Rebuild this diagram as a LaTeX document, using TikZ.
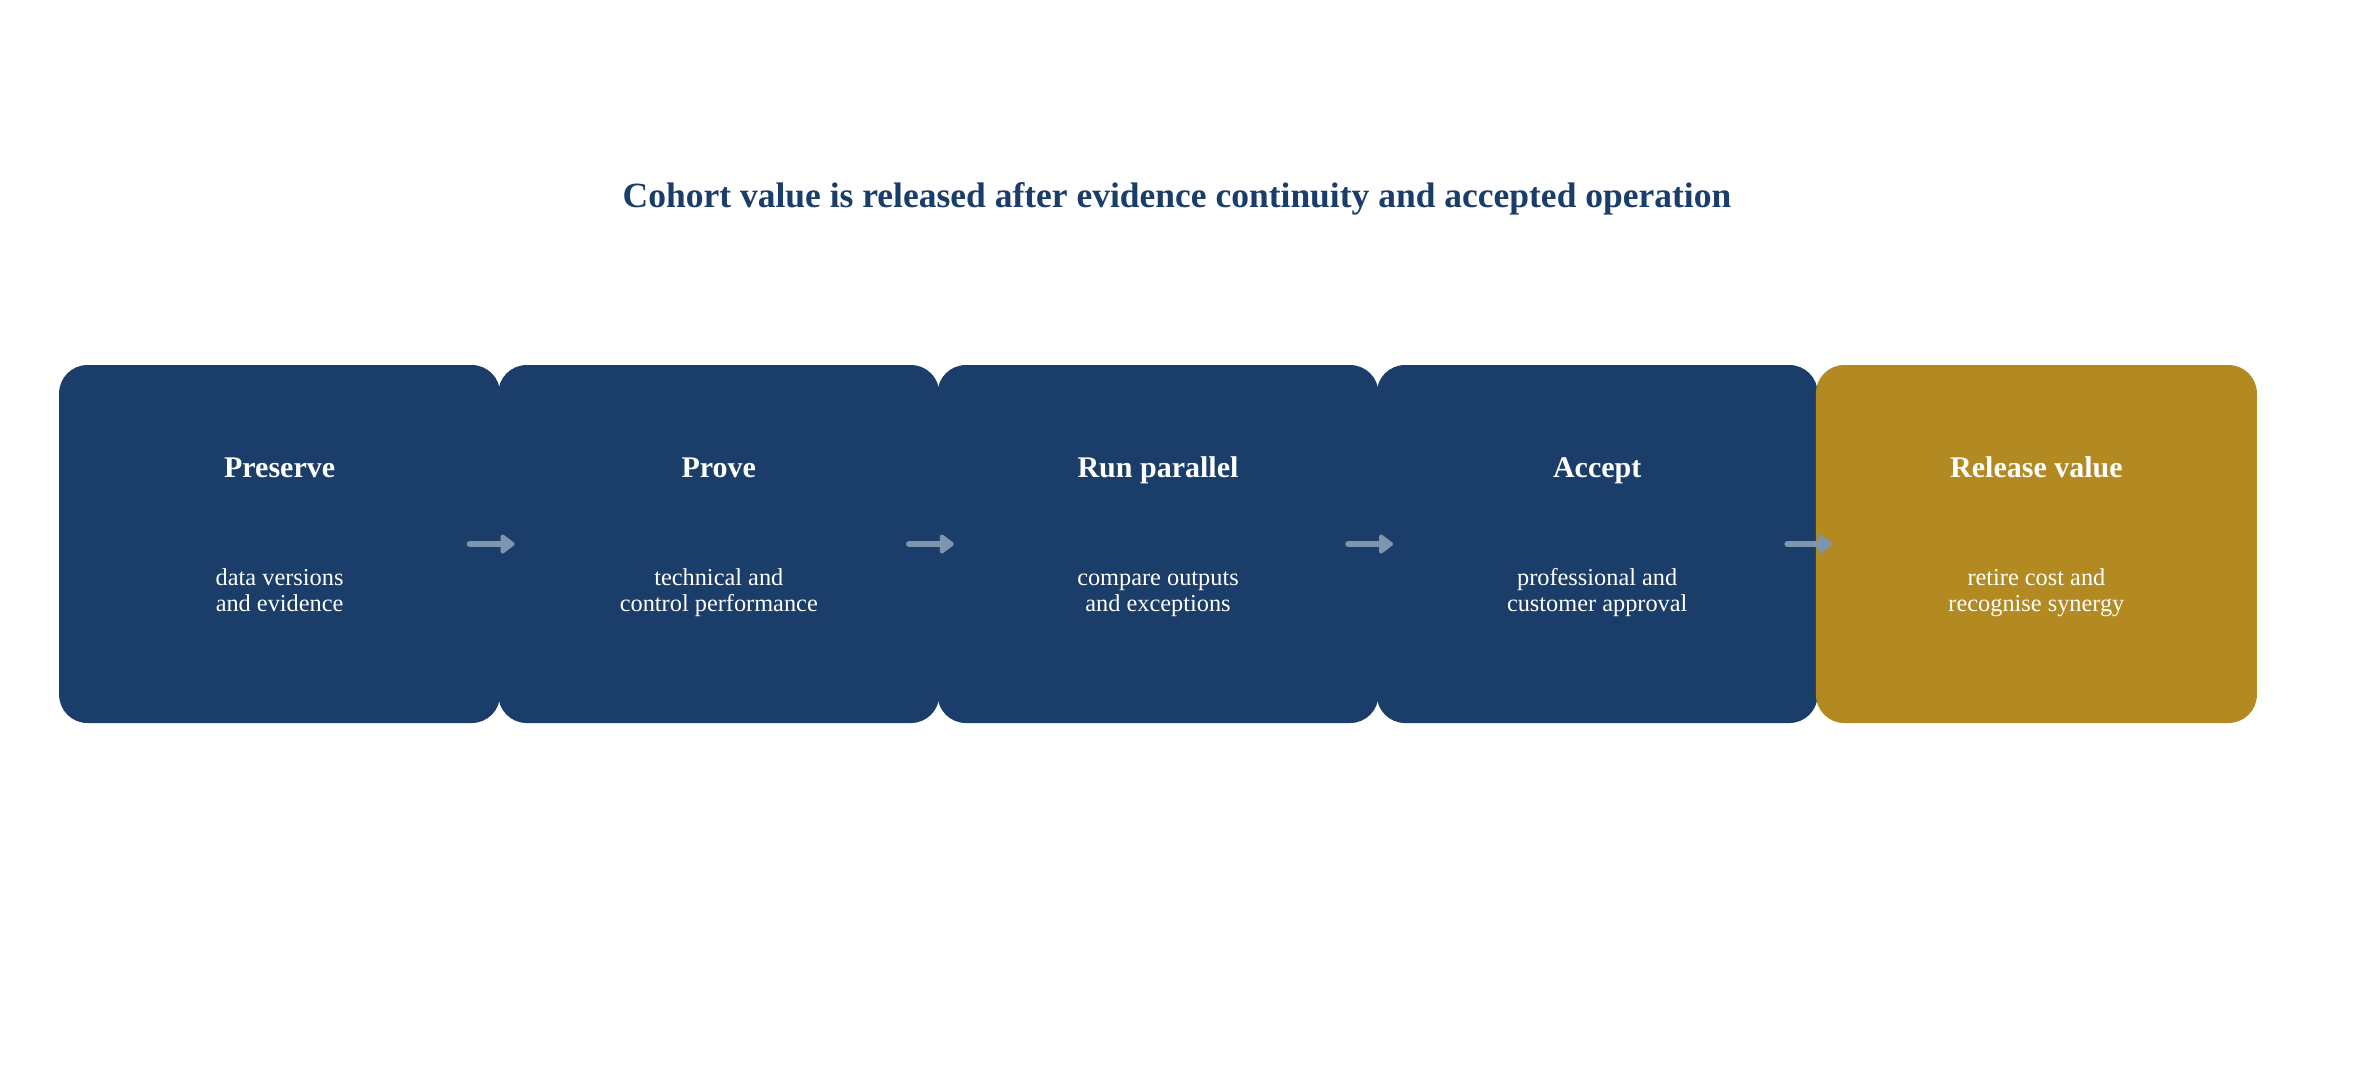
\documentclass[tikz,border=0pt]{standalone}
\usepackage{fontspec}
\setmainfont{Liberation Serif}
\usetikzlibrary{arrows.meta}
\definecolor{navy}{HTML}{1A3D69}
\definecolor{gold}{HTML}{B38A22}
\definecolor{arrowc}{HTML}{7D95AF}
\tikzset{
  stepbox/.style={fill=#1, draw=none, rounded corners=8.5pt, minimum width=132.3pt, minimum height=107.4pt, inner sep=0pt},
  head/.style={text=white, font=\fontsize{9}{10.8}\selectfont\bfseries, inner sep=0pt, anchor=base},
  desc/.style={text=white, font=\fontsize{7.3}{7.8}\selectfont, align=center, inner sep=0pt, anchor=base},
  arr/.style={draw=arrowc, line width=1.8pt, line cap=round, -{Triangle[round,length=4.6pt,width=6.6pt]}},
}
\begin{document}
\begin{tikzpicture}[x=0.3pt,y=-0.3pt]
\useasboundingbox (0,0) rectangle (2354,1078);
\node[text=navy, font=\fontsize{10.65}{12.8}\selectfont\bfseries, inner sep=0pt, anchor=base] (title) at (1177,207) {Cohort value is released after evidence continuity and accepted operation};
\node[stepbox=navy] (b1) at (279.6,544) {};
\node[stepbox=navy] (b2) at (718.8,544) {};
\node[stepbox=navy] (b3) at (1158,544) {};
\node[stepbox=navy] (b4) at (1597.2,544) {};
\node[stepbox=gold] (b5) at (2036.4,544) {};
\node[head] (h1) at (279.6,477) {Preserve};
\node[head] (h2) at (718.8,477) {Prove};
\node[head] (h3) at (1158,477) {Run parallel};
\node[head] (h4) at (1597.2,477) {Accept};
\node[head] (h5) at (2036.4,477) {Release value};
\node[desc] (d1) at (279.6,611) {data versions\\and evidence};
\node[desc] (d2) at (718.8,611) {technical and\\control performance};
\node[desc] (d3) at (1158,611) {compare outputs\\and exceptions};
\node[desc] (d4) at (1597.2,611) {professional and\\customer approval};
\node[desc] (d5) at (2036.4,611) {retire cost and\\recognise synergy};
\draw[arr] ([xshift=-9.3pt]b1.east) -- ([xshift=5.1pt]b2.west);
\draw[arr] ([xshift=-9.3pt]b2.east) -- ([xshift=5.1pt]b3.west);
\draw[arr] ([xshift=-9.3pt]b3.east) -- ([xshift=5.1pt]b4.west);
\draw[arr] ([xshift=-9.3pt]b4.east) -- ([xshift=5.1pt]b5.west);
\end{tikzpicture}
\end{document}
